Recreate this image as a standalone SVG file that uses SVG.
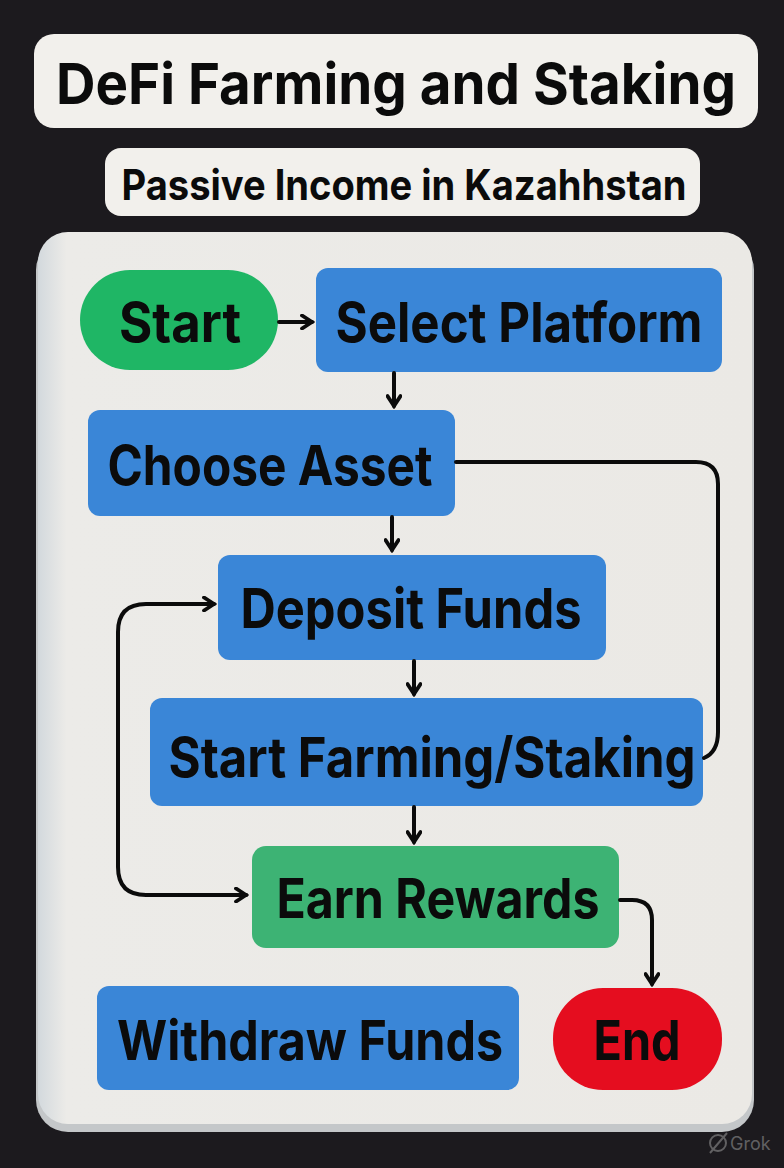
<svg xmlns="http://www.w3.org/2000/svg" width="784" height="1168" viewBox="0 0 784 1168">
<defs>
<style>
.t{font-family:Inter,"Liberation Sans",sans-serif;font-weight:700;fill:#0b0b0b;text-anchor:middle}
.n{font-size:55px}
.blue{fill:#3a86d7}
.c{fill:none;stroke:#0b0b0b;stroke-width:4;stroke-linecap:round;stroke-linejoin:round}
</style>
<marker id="ah" viewBox="0 0 16 16" refX="13" refY="8" markerWidth="16" markerHeight="16" markerUnits="userSpaceOnUse" orient="auto">
<path d="M3,1.5 L13,8 L3,14.5" fill="none" stroke="#0b0b0b" stroke-width="3.8" stroke-linecap="round" stroke-linejoin="miter"/>
</marker>
<linearGradient id="pg" x1="0" y1="0" x2="1" y2="0">
<stop offset="0" stop-color="#d3d9dd"/>
<stop offset="0.04" stop-color="#ecebe8"/>
<stop offset="1" stop-color="#ebe9e5"/>
</linearGradient>
</defs>
<rect width="784" height="1168" fill="#1c1a1e"/>
<g id="title">
<rect x="34" y="34" width="724" height="94" rx="20" fill="#f2f0ec"/>
<text class="t" x="396" y="104" font-size="57" textLength="680" lengthAdjust="spacingAndGlyphs">DeFi Farming and Staking</text>
</g>
<g id="subtitle">
<rect x="105" y="148" width="595" height="68" rx="16" fill="#f2f0ec"/>
<text class="t" x="404" y="200" font-size="42" font-weight="600" textLength="565" lengthAdjust="spacingAndGlyphs">Passive Income in Kazahhstan</text>
</g>
<g id="panel">
<rect x="36" y="238" width="718" height="894" rx="32" fill="#c4c7c9"/>
<rect x="38" y="232" width="714" height="892" rx="30" fill="url(#pg)"/>
</g>
<g id="start">
<rect x="80" y="270" width="198" height="100" rx="50" fill="#1fb665"/>
<text class="t n" x="180" y="342" textLength="122" lengthAdjust="spacingAndGlyphs">Start</text>
</g>
<g id="select">
<rect class="blue" x="316" y="268" width="406" height="104" rx="12"/>
<text class="t n" x="519" y="342" textLength="367" lengthAdjust="spacingAndGlyphs">Select Platform</text>
</g>
<g id="choose">
<rect class="blue" x="88" y="410" width="367" height="106" rx="12"/>
<text class="t n" x="270" y="485" textLength="325" lengthAdjust="spacingAndGlyphs">Choose Asset</text>
</g>
<g id="deposit">
<rect class="blue" x="218" y="555" width="388" height="105" rx="12"/>
<text class="t n" x="411" y="628" textLength="341" lengthAdjust="spacingAndGlyphs">Deposit Funds</text>
</g>
<g id="farming">
<rect class="blue" x="150" y="698" width="553" height="108" rx="12"/>
<text class="t n" x="432" y="777" textLength="527" lengthAdjust="spacingAndGlyphs">Start Farming/Staking</text>
</g>
<g id="earn">
<rect x="252" y="846" width="367" height="102" rx="14" fill="#3db374"/>
<text class="t n" x="438" y="918" textLength="323" lengthAdjust="spacingAndGlyphs">Earn Rewards</text>
</g>
<g id="withdraw">
<rect class="blue" x="97" y="986" width="422" height="104" rx="12"/>
<text class="t n" x="310" y="1060" textLength="386" lengthAdjust="spacingAndGlyphs">Withdraw Funds</text>
</g>
<g id="end">
<rect x="553" y="988" width="169" height="102" rx="50" fill="#e50d1f"/>
<text class="t n" x="637" y="1060" textLength="87" lengthAdjust="spacingAndGlyphs">End</text>
</g>
<g id="connectors">
<path class="c" d="M279,322 H312" marker-end="url(#ah)"/>
<path class="c" d="M394,373 V406" marker-end="url(#ah)"/>
<path class="c" d="M392,517 V550" marker-end="url(#ah)"/>
<path class="c" d="M414,661 V694" marker-end="url(#ah)"/>
<path class="c" d="M414,807 V842" marker-end="url(#ah)"/>
<path class="c" d="M456,462 H696 Q718,462 718,484 V732 Q718,752 704,758"/>
<path class="c" d="M620,900 H632 Q652,900 652,920 V984" marker-end="url(#ah)"/>
<path class="c" d="M246,895 H146 Q118,895 118,867 V632 Q118,604 146,604 H214" marker-end="url(#ah)"/>
<path class="c" d="M180,895 H246" marker-end="url(#ah)"/>
</g>
<g id="watermark" opacity="0.55">
<circle cx="718" cy="1143" r="8" fill="none" stroke="#9a9a9a" stroke-width="2"/>
<path d="M710,1153 L727,1133" stroke="#9a9a9a" stroke-width="2"/>
<text x="730" y="1150" font-family="Inter,'Liberation Sans',sans-serif" font-size="18" fill="#9a9a9a">Grok</text>
</g>
</svg>
